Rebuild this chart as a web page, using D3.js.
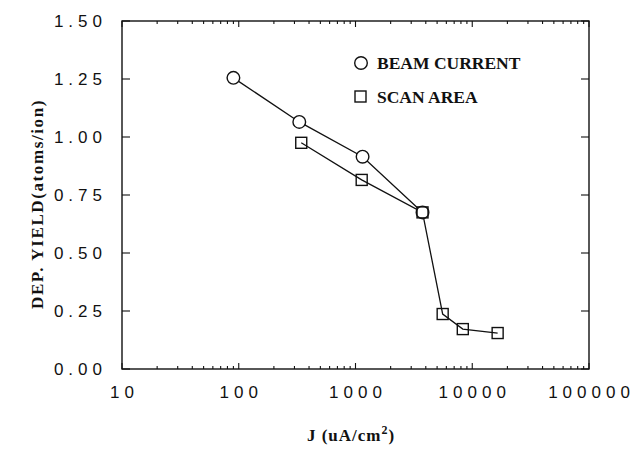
<!DOCTYPE html>
<html><head><meta charset="utf-8">
<script src="https://cdn.jsdelivr.net/npm/d3@7"></script>
<style>body{margin:0;background:#fff}</style>
</head><body>
<svg id="c" width="637" height="450"></svg>
<script>
// Data
const beamJ = [90, 330, 1150, 3750];
const beamY = [1.255, 1.065, 0.915, 0.675];
const scanJ = [343, 1130, 3750, 5580, 8300, 16500];
const scanY = [0.975, 0.815, 0.675, 0.237, 0.172, 0.155];
const xTicks = [10, 100, 1000, 10000, 100000];
const yTicks = [0, 0.25, 0.5, 0.75, 1.0, 1.25, 1.5];
const legendLabels = ["BEAM CURRENT", "SCAN AREA"];

const L = 122, R = 589, T = 21, B = 369;
const svg = d3.select("#c");
const x = d3.scaleLog().domain([10, 100000]).range([L, R]);
const y = d3.scaleLinear().domain([0, 1.5]).range([B, T]);

const stroke = "#111";
// frame
svg.append("rect").attr("x", L).attr("y", T).attr("width", R - L).attr("height", B - T)
  .attr("fill", "none").attr("stroke", stroke).attr("stroke-width", 1.4);

// minor x ticks
const minor = [];
for (let d = 10; d < 100000; d *= 10) for (let k = 2; k <= 9; k++) minor.push(d * k);
const g = svg.append("g").attr("stroke", stroke).attr("stroke-width", 1.1);
minor.forEach(v => {
  g.append("line").attr("x1", x(v)).attr("x2", x(v)).attr("y1", B).attr("y2", B - 3);
  g.append("line").attr("x1", x(v)).attr("x2", x(v)).attr("y1", T).attr("y2", T + 3);
});
xTicks.forEach(v => {
  g.append("line").attr("x1", x(v)).attr("x2", x(v)).attr("y1", B).attr("y2", B - 6);
  g.append("line").attr("x1", x(v)).attr("x2", x(v)).attr("y1", T).attr("y2", T + 6);
});
yTicks.forEach(v => {
  g.append("line").attr("x1", L).attr("x2", L + 8).attr("y1", y(v)).attr("y2", y(v));
  g.append("line").attr("x1", R).attr("x2", R - 8).attr("y1", y(v)).attr("y2", y(v));
});

// tick labels
const tickFont = "Liberation Sans, Arial, sans-serif";
svg.append("g").selectAll("text").data(xTicks).join("text")
  .attr("x", d => x(d) + 2.5).attr("y", 398)
  .attr("text-anchor", "middle").attr("font-family", tickFont).attr("font-size", 17)
  .attr("letter-spacing", 5).attr("fill", "#111").text(d => d);
svg.append("g").selectAll("text").data(yTicks).join("text")
  .attr("x", 107).attr("y", d => y(d) + 6)
  .attr("text-anchor", "end").attr("font-family", tickFont).attr("font-size", 17)
  .attr("letter-spacing", 5).attr("fill", "#111").text(d => d3.format(".2f")(d));

// axis titles
const serif = "Liberation Serif, Times New Roman, serif";
const xt = svg.append("text").attr("x", 351).attr("y", 441).attr("text-anchor", "middle")
  .attr("font-family", serif).attr("font-weight", "bold").attr("font-size", 17)
  .attr("letter-spacing", 1).attr("fill", "#111");
xt.append("tspan").text("J (uA/cm");
xt.append("tspan").attr("dy", -7).attr("font-size", 12).text("2");
xt.append("tspan").attr("dy", 7).text(")");

svg.append("text").attr("transform", "translate(43,204) rotate(-90)")
  .attr("text-anchor", "middle").attr("font-family", serif).attr("font-weight", "bold")
  .attr("font-size", 17).attr("letter-spacing", 1.6).attr("fill", "#111")
  .text("DEP. YIELD(atoms/ion)");

// lines
const line = d3.line().x(d => x(d[0])).y(d => y(d[1]));
const beam = beamJ.map((j, i) => [j, beamY[i]]);
const scan = scanJ.map((j, i) => [j, scanY[i]]);
svg.append("path").datum(beam).attr("d", line).attr("fill", "none").attr("stroke", stroke).attr("stroke-width", 1.3);
svg.append("path").datum(scan).attr("d", line).attr("fill", "none").attr("stroke", stroke).attr("stroke-width", 1.3);

// markers
svg.append("g").selectAll("circle").data(beam).join("circle")
  .attr("cx", d => x(d[0])).attr("cy", d => y(d[1])).attr("r", 6.3)
  .attr("fill", "#fff").attr("stroke", stroke).attr("stroke-width", 1.4);
svg.append("g").selectAll("rect").data(scan).join("rect")
  .attr("x", d => x(d[0]) - 5.5).attr("y", d => y(d[1]) - 5.5).attr("width", 11).attr("height", 11)
  .attr("fill", "none").attr("stroke", stroke).attr("stroke-width", 1.4);

// legend
svg.append("circle").attr("cx", 361).attr("cy", 63).attr("r", 6.3)
  .attr("fill", "#fff").attr("stroke", stroke).attr("stroke-width", 1.4);
svg.append("rect").attr("x", 355).attr("y", 91).attr("width", 11).attr("height", 11)
  .attr("fill", "none").attr("stroke", stroke).attr("stroke-width", 1.4);
svg.append("g").selectAll("text").data(legendLabels).join("text")
  .attr("x", 377).attr("y", (d, i) => 69 + i * 34)
  .attr("font-family", serif).attr("font-weight", "bold").attr("font-size", 17.5)
  .attr("fill", "#111").text(d => d);
</script>
</body></html>
